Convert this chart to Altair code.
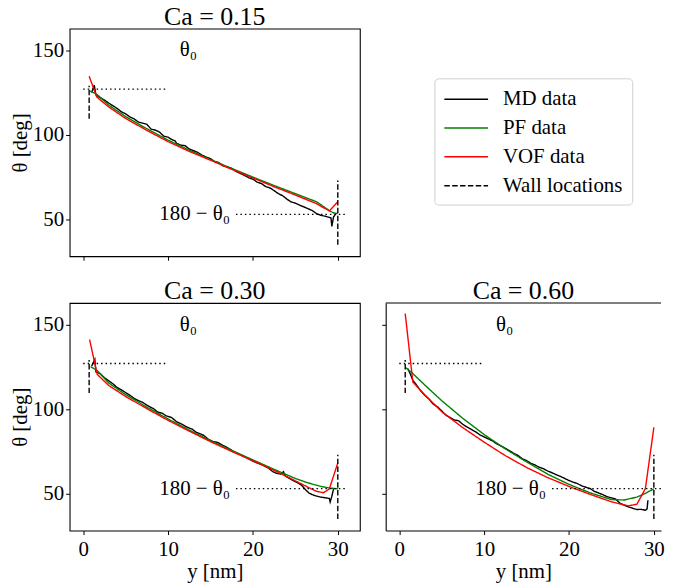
import altair as alt
import pandas as pd

FONT = "Liberation Serif"

panel_titles = ["Ca = 0.15", "Ca = 0.30", "Ca = 0.60"]
series_names = ["MD data", "PF data", "VOF data", "Wall locations"]
series_colors = ["#000000", "#008000", "#ff0000", "#000000"]
series_dashes = [[1, 0], [1, 0], [1, 0], [5.5, 2.4]]

x_ticks = [0, 10, 20, 30]
y_ticks = [50, 100, 150]
x_domain = [-1.6, 32.6]
y_domain = [28.2, 162.8]

theta0 = 127
theta0_line_x = [0, 10]
theta180_line_x = [18, 31]
wall_x = [0.7, 30]
wall_left_y = [109.5, 129]
wall_right_y = [35, 73]
label_theta0 = "θ₀"
label_theta180 = "180 − θ₀"
label_theta0_pos = [12.4, 150]
label_theta180_pos = [17.3, 53]

# ---------------- Ca = 0.15 ----------------
md1_x = [1.0, 1.3, 1.5, 2.0, 2.5, 3.0, 3.5, 4.0, 4.5, 5.0, 5.5, 6.0, 6.5, 7.0, 7.5, 8.0, 8.5, 9.0, 9.5,
         10.0, 10.5, 10.8, 11.0, 11.5, 12.0, 12.5, 13.0, 13.5, 14.0, 14.5, 15.0, 15.5, 16.0, 16.5, 17.0,
         17.5, 18.0, 18.5, 19.0, 19.5, 20.0, 20.5, 21.0, 21.5, 22.0, 22.5, 23.0, 23.5, 24.0, 24.5, 25.0,
         25.5, 26.0, 26.5, 27.0, 27.5, 28.0, 28.5, 29.0, 29.2, 29.3, 29.5, 29.8]
md1_y = [125.0, 129.4, 123.6, 122.0, 120.6, 118.8, 117.2, 115.6, 113.6, 112.4, 110.6, 109.4, 107.6, 106.9,
         106.2, 103.4, 102.8, 101.6, 99.2, 98.6, 97.0, 96.6, 95.0, 93.9, 93.6, 91.6, 90.6, 89.6, 88.0, 86.8,
         85.9, 84.2, 83.5, 81.6, 80.9, 80.2, 78.4, 77.2, 76.0, 74.6, 73.8, 72.0, 71.2, 69.4, 68.6, 67.0,
         65.2, 64.0, 62.0, 60.3, 59.6, 58.4, 57.4, 56.3, 55.2, 53.4, 52.4, 51.9, 51.2, 50.8, 45.9, 51.5, 53.4]
pf1_x = [0.8, 1.6, 3, 5, 7.5, 10, 12.5, 15, 17.5, 20, 22.5, 25, 27.5, 29, 29.5, 30]
pf1_y = [125.9, 124.0, 117.6, 110.8, 103.6, 96.9, 90.9, 85.4, 80.1, 75.0, 70.0, 65.2, 60.4, 55.2, 53.8, 53.5]
vof1_x = [0.7, 1.6, 3, 5, 7.5, 10, 12.5, 15, 17.5, 20, 22.5, 25, 27.5, 29.0, 30.0]
vof1_y = [134.7, 122.4, 116.5, 109.7, 102.6, 96.0, 90.2, 85.0, 79.6, 74.5, 69.3, 64.4, 59.3, 55.0, 60.4]

# ---------------- Ca = 0.30 ----------------
md2_x = [1.0, 1.37, 1.5, 2.0, 2.5, 3.0, 3.5, 4.0, 4.5, 5.0, 5.5, 6.0, 6.4, 7.0, 7.5, 8.0, 8.3, 8.8, 9.3,
         9.8, 10.4, 11.0, 11.5, 12.0, 12.5, 12.8, 13.3, 13.8, 14.2, 14.75, 15.3, 15.8, 16.3, 16.7, 17.2,
         17.7, 18.2, 18.7, 19.2, 19.7, 20.2, 20.6, 21.2, 21.8, 22.3, 22.8, 23.3, 23.6, 23.8, 24.3, 24.8,
         25.3, 25.7, 26.2, 26.6, 27.0, 27.5, 28.0, 28.5, 29.0, 29.1, 29.3, 29.5]
md2_y = [125.5, 129.4, 122.0, 121.0, 118.6, 116.8, 115.0, 112.8, 111.4, 109.8, 108.2, 106.4, 105.3, 104.0,
         102.4, 101.0, 100.2, 98.2, 97.6, 96.0, 95.1, 92.6, 91.4, 90.0, 88.8, 88.3, 86.4, 85.4, 84.5, 82.2,
         80.8, 80.4, 79.0, 78.0, 76.6, 75.0, 73.8, 72.6, 71.4, 70.0, 68.8, 68.0, 66.8, 65.2, 63.2, 62.0,
         61.6, 63.0, 60.6, 59.0, 57.6, 56.4, 55.2, 52.4, 50.4, 49.4, 48.6, 48.0, 47.6, 47.2, 45.1, 48.5, 52.9]
pf2_x = [0.87, 1.65, 3, 5, 7.5, 10, 12.5, 15, 17.5, 20, 22.5, 25, 26.5, 28, 29, 30]
pf2_y = [125.1, 122.8, 115.5, 108.6, 101.2, 94.2, 87.6, 81.4, 75.6, 70.0, 64.4, 59.0, 56.4, 54.3, 53.4, 52.9]
vof2_x = [0.75, 1.65, 3, 5, 7.5, 10, 12.5, 15, 17.5, 20, 22.5, 25, 26.5, 27.5, 28.3, 29.0, 30.0]
vof2_y = [141.2, 120.6, 114.0, 107.5, 100.3, 93.4, 87.0, 80.8, 75.0, 69.5, 63.8, 57.6, 53.8, 51.4, 50.6, 52.8, 68.2]

# ---------------- Ca = 0.60 ----------------
md3_x = [1.0, 1.3, 1.6, 2.0, 2.5, 3.0, 3.5, 4.0, 4.5, 5.0, 5.5, 6.0, 6.5, 7.0, 7.5, 8.0, 8.5, 9.0, 9.5,
         10.0, 10.5, 11.0, 11.5, 12.0, 12.5, 13.0, 13.5, 14.0, 14.5, 15.0, 15.5, 16.0, 16.5, 17.0, 17.5,
         18.0, 18.5, 19.0, 19.5, 20.0, 20.5, 21.0, 21.5, 22.0, 22.5, 23.0, 23.5, 24.0, 24.5, 25.0, 25.5,
         26.0, 26.5, 27.0, 27.5, 28.0, 28.5, 29.0, 29.2, 29.3]
md3_y = [124.0, 120.8, 117.0, 114.5, 111.0, 108.2, 106.0, 103.0, 101.4, 99.0, 96.4, 95.0, 93.6, 93.1,
         91.0, 89.4, 88.0, 86.6, 84.8, 83.6, 82.4, 81.2, 79.4, 78.2, 76.8, 75.4, 73.8, 72.6, 70.6, 69.6,
         68.0, 67.0, 65.6, 64.8, 63.4, 62.4, 61.2, 60.2, 59.0, 57.8, 56.8, 56.0, 54.6, 53.8, 53.0, 51.4,
         50.4, 49.4, 48.2, 47.6, 46.8, 44.4, 43.2, 42.2, 41.4, 40.6, 40.8, 40.2, 41.0, 46.1]
pf3_x = [0.78, 1.6, 3, 5, 7.5, 10, 12.5, 15, 17.5, 20, 22.5, 25, 26.5, 28, 29, 30]
pf3_y = [124.5, 121.0, 114.3, 105.0, 94.5, 85.0, 76.5, 68.8, 61.5, 55.5, 50.5, 46.5, 46.3, 48.0, 50.2, 52.9]
vof3_x = [0.7, 1.6, 3, 5, 7.5, 10, 12.5, 15, 17.5, 20, 22.5, 25, 27, 28, 29, 30]
vof3_y = [156.5, 116.0, 108.5, 98.5, 89.0, 80.5, 72.5, 65.5, 59.5, 54.3, 49.6, 45.2, 42.8, 43.8, 53.0, 89.2]

curves = {
    panel_titles[0]: [(md1_x, md1_y), (pf1_x, pf1_y), (vof1_x, vof1_y)],
    panel_titles[1]: [(md2_x, md2_y), (pf2_x, pf2_y), (vof2_x, vof2_y)],
    panel_titles[2]: [(md3_x, md3_y), (pf3_x, pf3_y), (vof3_x, vof3_y)],
}

rows = []
refs = []
texts = []
for p in panel_titles:
    for s, (xs, ys) in zip(series_names[:3], curves[p]):
        assert len(xs) == len(ys), (p, s, len(xs), len(ys))
        for i, (xv, yv) in enumerate(zip(xs, ys)):
            rows.append({"panel": p, "series": s, "seg": s, "i": i, "x": xv, "y": yv})
    for k, yv in enumerate(wall_left_y):
        rows.append({"panel": p, "series": series_names[3], "seg": "left", "i": k, "x": wall_x[0], "y": yv})
    for k, yv in enumerate(wall_right_y):
        rows.append({"panel": p, "series": series_names[3], "seg": "right", "i": k, "x": wall_x[1], "y": yv})
    for k, xv in enumerate(theta0_line_x):
        refs.append({"panel": p, "seg": "a", "i": k, "x": xv, "y": theta0})
    for k, xv in enumerate(theta180_line_x):
        refs.append({"panel": p, "seg": "b", "i": k, "x": xv, "y": 180 - theta0})
    texts.append({"panel": p, "kind": "a", "x": label_theta0_pos[0], "y": label_theta0_pos[1], "label": label_theta0})
    texts.append({"panel": p, "kind": "b", "x": label_theta180_pos[0], "y": label_theta180_pos[1], "label": label_theta180})

df = pd.DataFrame(rows)
df_ref = pd.DataFrame(refs)
df_txt = pd.DataFrame(texts)

W, H = 292, 229
PX_PER_NM = W / (x_domain[1] - x_domain[0])
W3 = 277  # right panel runs off the page edge, as in the reference
x_domain3 = [x_domain[0], x_domain[0] + W3 / PX_PER_NM]

legend = alt.Legend(
    title=None, orient="none", legendX=367, legendY=50,
    symbolType="M-1,0H3", symbolSize=484, symbolStrokeWidth=1.5,
    labelFont=FONT, labelFontSize=21, labelColor="black", labelOffset=36,
    strokeColor="#d0d0d0", cornerRadius=4, padding=9, rowPadding=7,
    fillColor="white", symbolFillColor="transparent",
)


def panel(title, show_xlab, show_ylab, width, xdom, open_right=False):
    xs = alt.Scale(domain=xdom, nice=False, zero=False)
    ys = alt.Scale(domain=y_domain, nice=False, zero=False)
    xaxis = alt.Axis(values=x_ticks, labels=show_xlab, grid=False, domain=open_right,
                     domainColor="black", domainWidth=1.1, tickSize=4,
                     tickColor="black", labelColor="black", labelFont=FONT, labelFontSize=21,
                     labelPadding=4, title="y [nm]" if show_xlab else "",
                     titleFont=FONT, titleFontSize=21, titleFontWeight="normal",
                     titleColor="black", titlePadding=1.5)
    yaxis = alt.Axis(values=y_ticks, labels=show_ylab, grid=False, domain=open_right,
                     domainColor="black", domainWidth=1.1, tickSize=4,
                     tickColor="black", labelColor="black", labelFont=FONT, labelFontSize=21,
                     labelPadding=2, title="θ [deg]" if show_ylab else "",
                     titleFont=FONT, titleFontSize=21, titleFontWeight="normal",
                     titleColor="black", titlePadding=2)
    lines = alt.Chart(df).transform_filter(alt.datum.panel == title).mark_line(
        strokeWidth=1.4, clip=True
    ).encode(
        x=alt.X("x:Q", scale=xs, axis=xaxis),
        y=alt.Y("y:Q", scale=ys, axis=yaxis),
        color=alt.Color("series:N", scale=alt.Scale(domain=series_names, range=series_colors), legend=legend),
        strokeDash=alt.StrokeDash("series:N", scale=alt.Scale(domain=series_names, range=series_dashes), legend=legend),
        detail="seg:N",
        order="i:Q",
    )
    ref = alt.Chart(df_ref).transform_filter(alt.datum.panel == title).mark_line(
        color="black", strokeWidth=1.3, strokeDash=[1.5, 3], clip=True
    ).encode(x="x:Q", y="y:Q", detail="seg:N", order="i:Q")
    t0 = alt.Chart(df_txt).transform_filter(
        (alt.datum.panel == title) & (alt.datum.kind == "a")
    ).mark_text(font=FONT, fontSize=21, align="center", baseline="middle", color="black").encode(
        x="x:Q", y="y:Q", text="label:N")
    t1 = alt.Chart(df_txt).transform_filter(
        (alt.datum.panel == title) & (alt.datum.kind == "b")
    ).mark_text(font=FONT, fontSize=21, align="right", baseline="middle", color="black").encode(
        x="x:Q", y="y:Q", text="label:N")
    layers = [lines, ref, t0, t1]
    props = dict(
        width=width, height=H,
        title=alt.TitleParams(title, font=FONT, fontSize=26, fontWeight="normal", color="black", offset=-1.5),
    )
    if open_right:
        top_spine = alt.Chart(df_txt).transform_filter(
            (alt.datum.panel == title) & (alt.datum.kind == "a")
        ).mark_rule(color="black", strokeWidth=1.1).encode(
            x=alt.value(0), x2=alt.value(width), y=alt.value(0))
        layers.append(top_spine)
        props["view"] = alt.ViewBackground(stroke="transparent")
    return alt.layer(*layers).properties(**props)


p1 = panel(panel_titles[0], False, True, W, x_domain)
p2 = panel(panel_titles[1], True, True, W, x_domain)
p3 = panel(panel_titles[2], True, False, W3, x_domain3, open_right=True)

empty = alt.Chart(pd.DataFrame({"v": [0]})).mark_point(opacity=0).encode(
    x=alt.value(0), y=alt.value(0)
).properties(width=W3, height=H, view=alt.ViewBackground(stroke="transparent"))

chart = alt.concat(p1, empty, p2, p3, columns=2, spacing={"row": 47, "column": 26}, bounds="flush").properties(
    padding={"left": 0, "top": -7, "right": 0, "bottom": 0}, background="white"
).configure_view(stroke="black", strokeWidth=1.1)

chart.save("out.html", embed_options={"renderer": "svg", "actions": False})
